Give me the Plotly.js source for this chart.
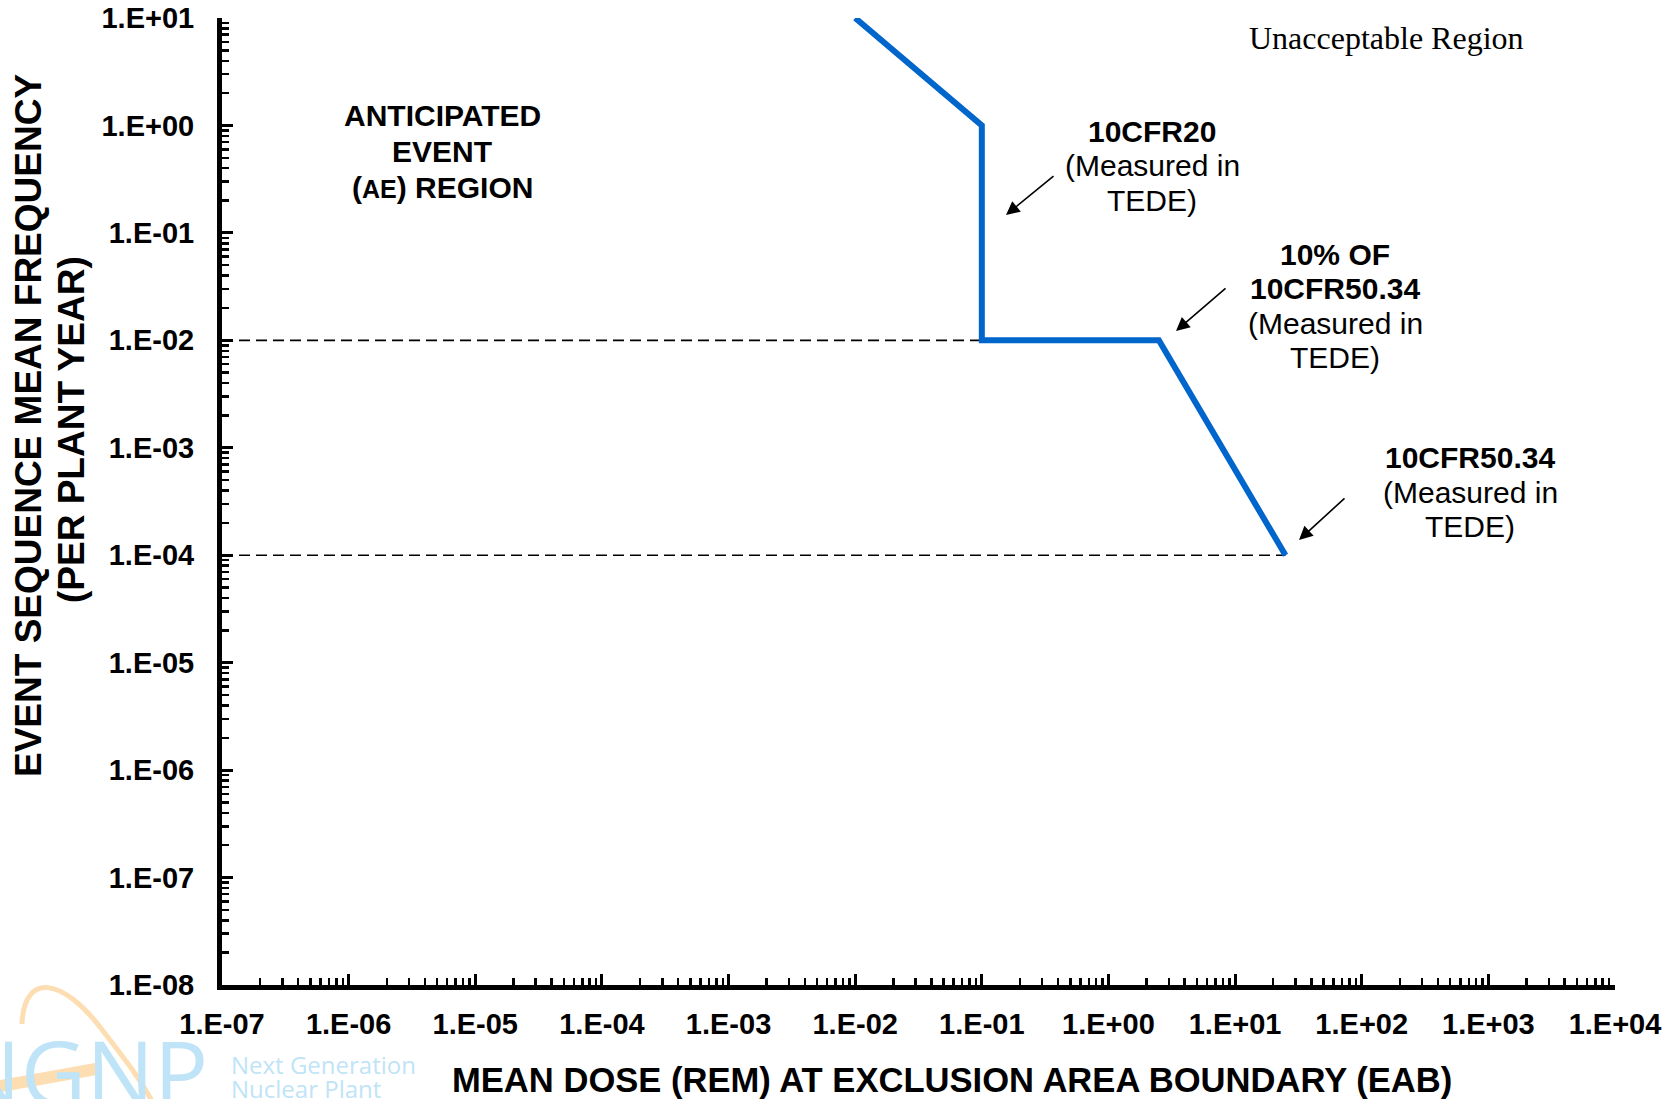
<!DOCTYPE html>
<html>
<head>
<meta charset="utf-8">
<script src="https://cdn.plot.ly/plotly-3.0.1.min.js"></script>
<style>html,body{margin:0;padding:0;background:#fff;}#chart{width:1678px;height:1099px;}</style>
</head>
<body>
<div id="chart"></div>
<script>
// ---- data ----
const limitDose = [0.01, 0.1, 0.1, 2.5, 25];          // rem
const limitFreq = [10, 1, 0.01, 0.01, 1e-4];          // per plant year
const guide1Dose = [1e-7, 0.1];
const guide1Freq = [0.01, 0.01];
const guide2Dose = [1e-7, 25];
const guide2Freq = [1e-4, 1e-4];
const xTickValues = [1e-7, 1e-6, 1e-5, 1e-4, 1e-3, 1e-2, 1e-1, 1e0, 1e1, 1e2, 1e3, 1e4];
const xTickLabels = ['1.E-07','1.E-06','1.E-05','1.E-04','1.E-03','1.E-02','1.E-01','1.E+00','1.E+01','1.E+02','1.E+03','1.E+04'];
const yTickValues = [1e-8, 1e-7, 1e-6, 1e-5, 1e-4, 1e-3, 1e-2, 1e-1, 1e0, 1e1];
const yTickLabels = ['1.E-08','1.E-07','1.E-06','1.E-05','1.E-04','1.E-03','1.E-02','1.E-01','1.E+00','1.E+01'];

const W = 1678, H = 1099;
const L = 222, R = 63, T = 18, B = 114;
const pw = W - L - R, ph = H - T - B;
const px = x => (x - L) / pw;
const py = y => (H - B - y) / ph;

const SANS = 'Liberation Sans, Arial, sans-serif';
const SERIF = 'Liberation Serif, Times New Roman, serif';
const LOGO = 'Open Sans, sans-serif';
const logoBlue = '#BFE4F7';
const logoOrange = '#FDDDB2';

const traces = [
  {x: guide1Dose, y: guide1Freq, mode: 'lines', line: {color: '#000', width: 1.6, dash: '11px,6px'}, hoverinfo: 'skip', showlegend: false},
  {x: guide2Dose, y: guide2Freq, mode: 'lines', line: {color: '#000', width: 1.6, dash: '11px,6px'}, hoverinfo: 'skip', showlegend: false},
  {x: limitDose, y: limitFreq, mode: 'lines', line: {color: '#0066CC', width: 6}, showlegend: false, name: 'Limit'}
];

const tickFont = {family: SANS, size: 29, color: '#000', weight: 'bold'};
const annFont = {family: SANS, size: 30, color: '#000'};

// one annotation per text line, so the line spacing matches the reference
const block = (cx, ys, lines, font) => lines.map((t, i) => ({
  x: px(cx), y: py(ys[i]), xref: 'paper', yref: 'paper', xanchor: 'center', yanchor: 'middle',
  text: t, showarrow: false, font: font
}));

const arrow = (tx, ty, ax, ay) => ({
  x: px(tx), y: py(ty), xref: 'paper', yref: 'paper', text: '', showarrow: true,
  ax: ax, ay: ay, arrowhead: 2, arrowsize: 1.7, arrowwidth: 1.6, arrowcolor: '#000'
});

const layout = {
  width: W, height: H,
  margin: {l: L, r: R, t: T, b: B},
  paper_bgcolor: '#fff', plot_bgcolor: '#fff',
  showlegend: false,
  xaxis: {
    type: 'log', range: [-7, 4], tickmode: 'array', tickvals: xTickValues, ticktext: xTickLabels,
    ticks: 'inside', ticklen: 11, tickwidth: 3, tickcolor: '#000',
    showline: true, linecolor: '#000', linewidth: 5, mirror: false,
    showgrid: false, zeroline: false, tickfont: tickFont, ticklabelstandoff: 9,
    minor: {dtick: 'D1', ticks: 'inside', ticklen: 7, tickwidth: 2.5, tickcolor: '#000', showgrid: false},
    fixedrange: true
  },
  yaxis: {
    type: 'log', range: [-8, 1], tickmode: 'array', tickvals: yTickValues, ticktext: yTickLabels,
    ticks: 'inside', ticklen: 11, tickwidth: 3, tickcolor: '#000',
    showline: true, linecolor: '#000', linewidth: 5, mirror: false,
    showgrid: false, zeroline: false, tickfont: tickFont, ticklabelstandoff: 17,
    minor: {dtick: 'D1', ticks: 'inside', ticklen: 7, tickwidth: 2.5, tickcolor: '#000', showgrid: false},
    fixedrange: true
  },
  shapes: [
    {type: 'path', xref: 'paper', yref: 'paper', layer: 'below',
     path: `M ${px(22)} ${py(1024)} C ${px(24)} ${py(972)}, ${px(62)} ${py(978)}, ${px(100)} ${py(1027)} S ${px(140)} ${py(1080)}, ${px(156)} ${py(1108)}`,
     line: {color: logoOrange, width: 5}},
    {type: 'path', xref: 'paper', yref: 'paper', layer: 'below',
     path: `M ${px(-5)} ${py(1087)} L ${px(96)} ${py(1069)}`,
     line: {color: logoOrange, width: 12}}
  ],
  annotations: [
    // axis titles
    {x: px(28), y: py(426), xref: 'paper', yref: 'paper', xanchor: 'center', yanchor: 'middle', textangle: -90,
     text: '<b>EVENT SEQUENCE MEAN FREQUENCY</b>', showarrow: false,
     font: {family: SANS, size: 37, color: '#000'}},
    {x: px(71), y: py(430), xref: 'paper', yref: 'paper', xanchor: 'center', yanchor: 'middle', textangle: -90,
     text: '<b>(PER PLANT YEAR)</b>', showarrow: false,
     font: {family: SANS, size: 37, color: '#000'}},
    {x: px(952), y: py(1080), xref: 'paper', yref: 'paper', xanchor: 'center', yanchor: 'middle',
     text: '<b>MEAN DOSE (REM) AT EXCLUSION AREA BOUNDARY (EAB)</b>', showarrow: false,
     font: {family: SANS, size: 34.6, color: '#000'}},
    // region labels
    ...block(442, [115, 152, 187], ['<b>ANTICIPATED</b>', '<b>EVENT</b>', '<b>(<span style="font-size:25px">AE</span>) REGION</b>'], annFont),
    {x: px(1386), y: py(38), xref: 'paper', yref: 'paper', xanchor: 'center', yanchor: 'middle',
     text: 'Unacceptable Region', showarrow: false, font: {family: SERIF, size: 32, color: '#000'}},
    ...block(1152, [131, 166, 200], ['<b>10CFR20</b>', '(Measured in', 'TEDE)'], annFont),
    ...block(1335, [254, 288, 323, 357], ['<b>10% OF</b>', '<b>10CFR50.34</b>', '(Measured in', 'TEDE)'], annFont),
    ...block(1470, [457, 492, 526], ['<b>10CFR50.34</b>', '(Measured in', 'TEDE)'], annFont),
    arrow(1006, 215, 49, -40),
    arrow(1176, 331, 51, -44),
    arrow(1299, 540, 47, -43),
    // logo
    {x: px(210), y: py(1008), xref: 'paper', yref: 'paper', xanchor: 'right', yanchor: 'top',
     text: 'NGNP', showarrow: false, font: {family: LOGO, size: 90, color: logoBlue}},
    {x: px(229), y: py(1046), xref: 'paper', yref: 'paper', xanchor: 'left', yanchor: 'top', align: 'left',
     text: 'Next Generation', showarrow: false, font: {family: LOGO, size: 24, color: logoBlue}},
    {x: px(229), y: py(1070), xref: 'paper', yref: 'paper', xanchor: 'left', yanchor: 'top', align: 'left',
     text: 'Nuclear Plant', showarrow: false, font: {family: LOGO, size: 24, color: logoBlue}}
  ]
};

Plotly.newPlot('chart', traces, layout, {displayModeBar: false, staticPlot: true});
</script>
</body>
</html>
